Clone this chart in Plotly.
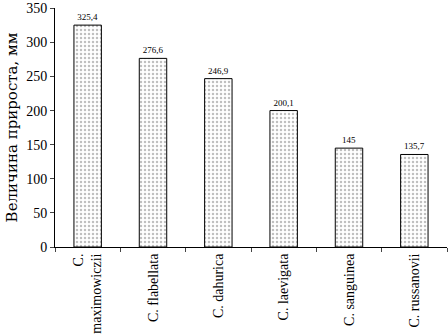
import plotly.graph_objects as go

categories = ["C.<br>maximowiczii", "C. flabellata", "C. dahurica", "C. laevigata", "C. sanguinea", "C. russanovii"]
values = [325.4, 276.6, 246.9, 200.1, 145, 135.7]
y_ticks = [0, 50, 100, 150, 200, 250, 300, 350]

fig = go.Figure(go.Bar(
    x=categories, y=values,
    width=0.42,
    marker=dict(color="white", line=dict(color="black", width=1),
                pattern=dict(shape=".", fgcolor="#808080", bgcolor="white", size=4, solidity=0.3)),
    texttemplate="%{y}", textposition="outside",
    textfont=dict(family="Liberation Serif", size=9, color="black"),
    cliponaxis=False,
))
fig.update_layout(
    width=448, height=335,
    margin=dict(l=55, r=1, t=5, b=84),
    plot_bgcolor="white", paper_bgcolor="white",
    separators=", ",
    font=dict(family="Liberation Serif", color="black"),
    showlegend=False,
)
fig.update_yaxes(range=[0, 350.5], tickvals=y_ticks, showgrid=False, showline=True, linecolor="black",
                 ticks="outside", ticklen=4, tickfont=dict(size=14), ticklabeloverflow="allow",
                 title=dict(text="Величина прироста, мм", font=dict(size=15, family="DejaVu Serif"), standoff=4),
                 zeroline=False)
fig.update_xaxes(showline=True, linecolor="black", ticks="outside", ticklen=4, tickson="boundaries",
                 tickangle=-90, tickfont=dict(size=14))
fig.write_html("out.html", config={"displayModeBar": False},
               post_script="document.body.style.margin='0';")
